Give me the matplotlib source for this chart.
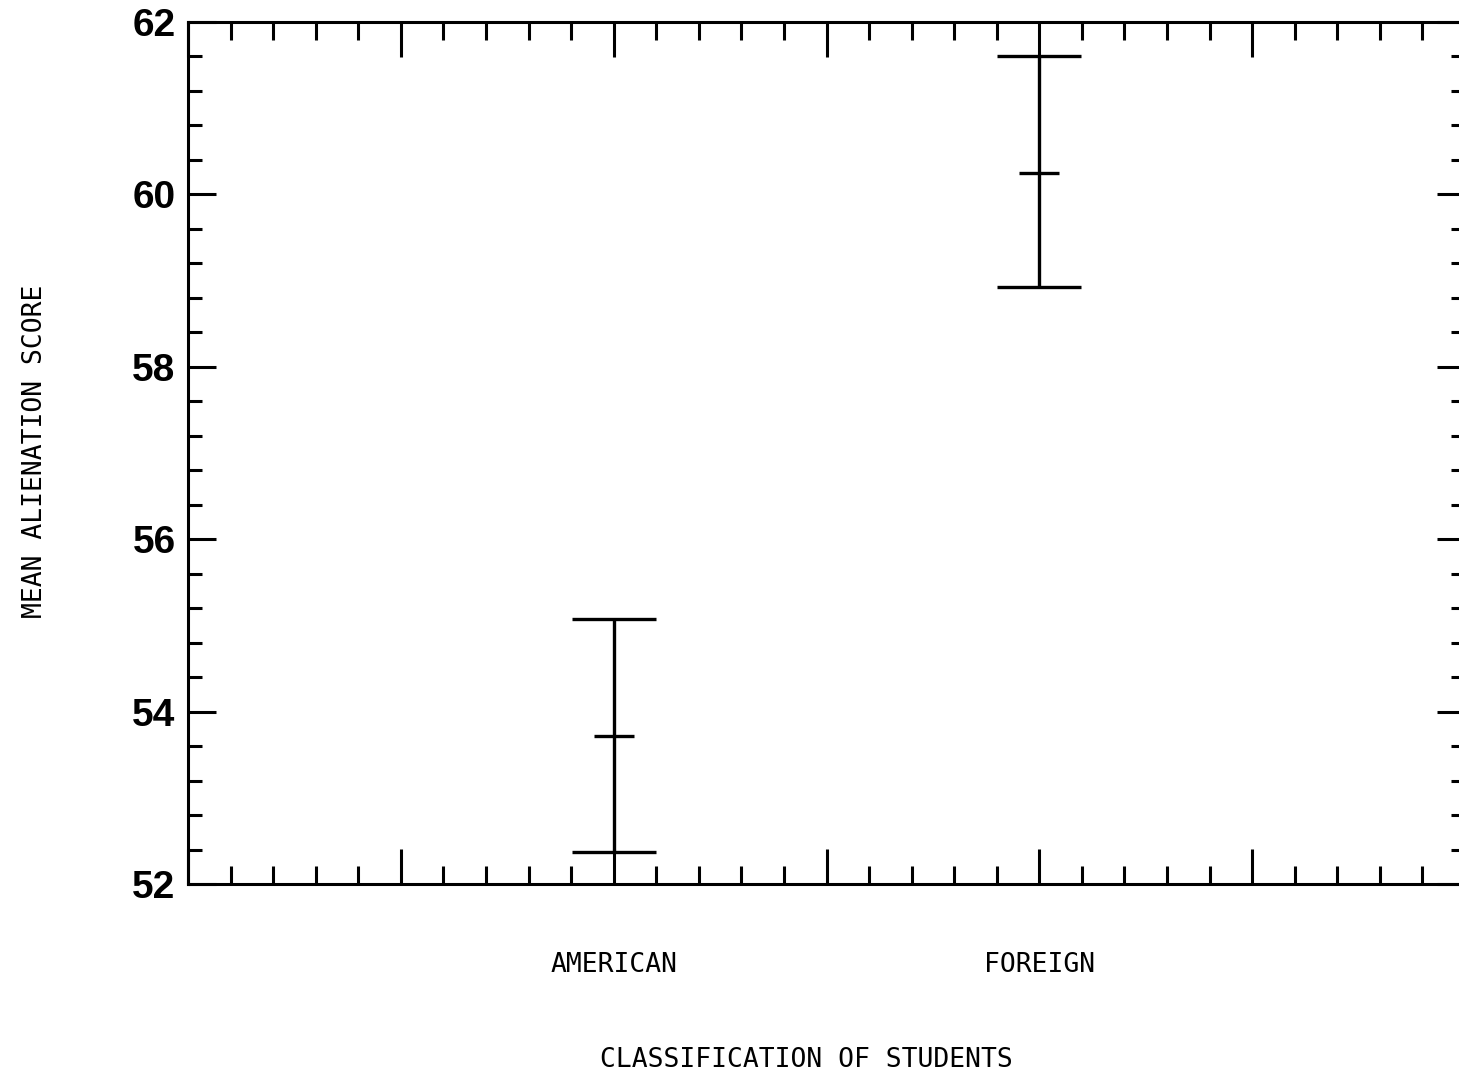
import numpy as np
import matplotlib.pyplot as plt
from matplotlib.ticker import MultipleLocator

# Valeurs
groups = ["AMERICAN", "FOREIGN"]
group_pos = [2, 4]
means = [53.72, 60.25]
upper = [55.07, 61.60]
lower = [52.37, 58.92]

yerr = np.array([np.array(means) - np.array(lower), np.array(upper) - np.array(means)])

fig = plt.figure(figsize=(14.59, 10.78), dpi=100)
ax = fig.add_axes([188 / 1459, 1 - 884 / 1078, 1277 / 1459, 862 / 1078])

ax.errorbar(group_pos, means, yerr=yerr, fmt="none", ecolor="black",
            elinewidth=2.4, capsize=30, capthick=2.4)
ax.plot(group_pos, means, linestyle="none", marker="_", markersize=29,
        markeredgewidth=2.4, color="black")

ax.set_xlim(0, 6)
ax.set_ylim(52, 62)

ax.xaxis.set_major_locator(MultipleLocator(1))
ax.xaxis.set_minor_locator(MultipleLocator(0.2))
ax.yaxis.set_major_locator(MultipleLocator(2))
ax.yaxis.set_minor_locator(MultipleLocator(0.4))

ax.set_xticks(range(7))
ax.set_xticklabels(["", "", groups[0], "", groups[1], "", ""],
                   family="DejaVu Sans Mono", fontsize=19)
ax.set_yticks([52, 54, 56, 58, 60, 62])
ax.set_yticklabels(["52", "54", "56", "58", "60", "62"],
                   family=["Liberation Sans Narrow", "Liberation Sans"],
                   fontsize=28, fontweight="bold")

ax.tick_params(axis="x", which="major", direction="in", length=25, width=2.2,
               top=True, bottom=True, pad=49)
ax.tick_params(axis="x", which="minor", direction="in", length=13, width=2.2,
               top=True, bottom=True)
ax.tick_params(axis="y", which="major", direction="in", length=20, width=2.2,
               left=True, right=True, pad=9)
ax.tick_params(axis="y", which="minor", direction="in", length=10, width=2.2,
               left=True, right=True)

for s in ax.spines.values():
    s.set_linewidth(2.2)

ax.text(0.484, -0.204, "CLASSIFICATION OF STUDENTS", transform=ax.transAxes,
        ha="center", va="center", family="DejaVu Sans Mono", fontsize=19)
fig.text(35 / 1459, 1 - 451 / 1078, "MEAN ALIENATION SCORE", rotation=90,
         ha="center", va="center", family="DejaVu Sans Mono", fontsize=19)

fig.savefig("out.png", dpi=100)
